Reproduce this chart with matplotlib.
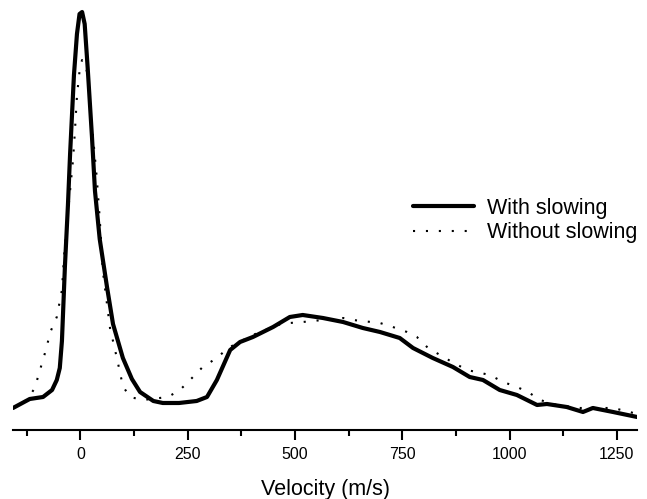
import matplotlib
matplotlib.use("Agg")
import matplotlib.pyplot as plt
from matplotlib.ticker import MultipleLocator

plt.rcParams['font.family'] = ['Liberation Sans', 'DejaVu Sans']

# velocity distribution (signal in arbitrary units)
v_slow = [-157, -118, -87, -66, -55, -48, -43, -36, -29, -24, -15, -8, -2, 4, 10, 17, 27, 34,
          45, 62, 76, 99, 120, 139, 170, 192, 230, 271, 295, 318, 349, 372, 402, 449, 488, 518,
          565, 612, 658, 698, 744, 775, 821, 868, 907, 938, 977, 1017, 1064, 1087, 1133, 1171,
          1194, 1241, 1297]
s_slow = [22, 31, 33, 40, 50, 62, 89, 164, 225, 276, 355, 396, 416, 418, 406, 362, 293, 239,
          191, 143, 106, 72, 51, 38, 29, 27, 27, 29, 33, 50, 80, 88, 93, 103, 113, 115,
          112, 108, 102, 98, 92, 82, 72, 63, 53, 50, 40, 35, 25, 26, 23, 18,
          22, 18, 13]

v_noslow = [-157, -125, -106, -97, -85, -69, -55, -43, -38, -31, -17, -13, -8, -1, 4, 10, 17, 27,
            38, 45, 52, 69, 85, 99, 115, 146, 204, 232, 260, 285, 318, 344, 402, 458, 488, 518,
            612, 635, 698, 728, 761, 784, 810, 838, 866, 901, 954, 985, 1017, 1043, 1071, 1110,
            1164, 1241, 1280, 1297]
s_noslow = [22, 30, 42, 56, 73, 99, 113, 140, 174, 208, 271, 297, 334, 363, 370, 368, 355, 305,
            253, 212, 160, 102, 72, 44, 33, 30, 33, 40, 52, 63, 72, 82, 95, 105, 107, 108,
            112, 110, 107, 103, 98, 93, 82, 75, 68, 60, 55, 48, 43, 38, 30, 25,
            22, 22, 18, 16]

fig = plt.figure(figsize=(6.47, 4.99), dpi=100)
ax = fig.add_axes([0.0201, 0.1383, 0.9652, 0.8617])

ax.plot(v_slow, s_slow, color='black', linewidth=3, solid_joinstyle='round',
        solid_capstyle='round', label='With slowing')
ax.plot(v_noslow, s_noslow, color='black', linewidth=1.5, linestyle=(0, (1, 5.2)),
        label='Without slowing')

ax.set_xlim(-157, 1298)
ax.set_ylim(0, 430)

# only the bottom axis is shown
for side in ['left', 'right', 'top']:
    ax.spines[side].set_visible(False)
ax.spines['bottom'].set_linewidth(1.5)
ax.set_yticks([])
ax.xaxis.set_major_locator(MultipleLocator(250))
ax.xaxis.set_minor_locator(MultipleLocator(125))
ax.tick_params(axis='x', which='major', length=7.2, width=1.5, labelsize=11.5, pad=5)
ax.tick_params(axis='x', which='minor', length=4.3, width=1.5)
ax.set_xlabel('Velocity (m/s)', fontsize=15.5, labelpad=12)

ax.legend(loc='upper left', bbox_to_anchor=(413 / 647, 1 - 198 / 499),
          bbox_transform=fig.transFigure, frameon=False, fontsize=15.5,
          handlelength=2.85, handletextpad=0.6, borderpad=0, borderaxespad=0,
          labelspacing=0.15)

fig.savefig('out.png', dpi=100)
